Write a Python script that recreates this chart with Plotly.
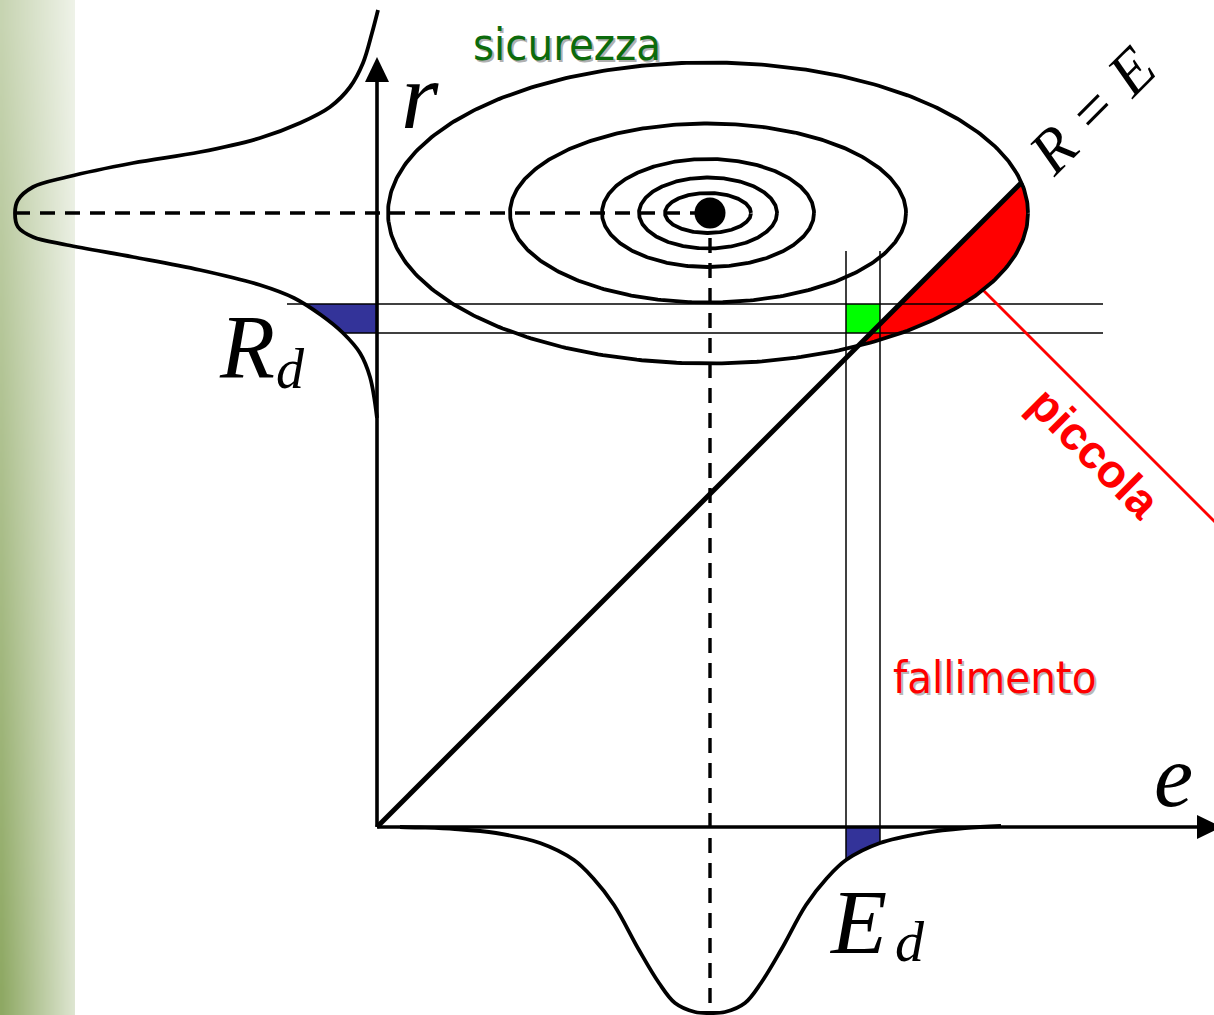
import numpy as np
import plotly.graph_objects as go

# ---------------- diagram data (slide pixel space) ----------------
origin_x, origin_y = 377, 827          # origin of the (e, r) axes
r_axis_tip = 57                        # top of r-axis arrow
e_axis_tip = 1222                      # right tip of e-axis arrow
mean_e = 710                           # mean of E (x)
mean_r = 213                           # mean of R (y)
ell_cx = 708                           # centre of the contour ellipses
ell_a = [320, 198, 106, 69, 43]        # horizontal semi-axes of the contours
ell_b = [150.5, 89.5, 54, 35.5, 20]    # vertical semi-axes of the contours
rd_band = [304, 333]                   # R_d band (y)
ed_band = [846, 880]                   # E_d band (x)
diag_end_x = 1022                      # end of the R = E line
band_line_end = 1103
band_line_top = 251
band_upper_start = 287

# density of R (drawn sideways, left of the r axis)
pdf_r_y = [10, 33, 63, 87, 107, 123, 138, 152, 163, 177, 187, 200, 213,
           227, 237, 245, 257, 270, 285, 298, 315, 333, 353, 377, 418]
pdf_r_x = [378, 372, 363, 350, 330, 300, 260, 200, 133, 67, 33, 18, 15,
           18, 33, 67, 133, 200, 260, 294, 321, 343, 360, 370, 377]

# density of E (drawn below the e axis)
pdf_e_x = [400, 419, 455, 496, 540, 574, 593, 614, 639, 659, 675, 695, 710,
           725, 745, 761, 781, 806, 827, 846, 880, 924, 965, 1001]
pdf_e_y = [827, 827.5, 829, 833, 843, 860, 878, 905, 950, 983, 1003, 1012, 1013,
           1012, 1003, 983, 950, 905, 878, 860, 843, 833, 828, 826]

pointer_x = [982, 1240]
pointer_y = [289, 547]

W, H = 1214, 1015
fig = go.Figure()

# ---- left decorative gradient strip ----
gx = np.linspace(0, 75, 31)
gy = np.linspace(0, H, 21)
gxc = (gx[:-1] + gx[1:]) / 2
gyc = (gy[:-1] + gy[1:]) / 2
Z = np.outer(0.48 + 0.52 * gyc / H, 1 - 0.72 * gxc / 75)
fig.add_trace(go.Heatmap(x=gx, y=gy, z=Z, zmin=0, zmax=1, zsmooth="best",
                         colorscale=[[0, "#ffffff"], [1, "#8ba65f"]],
                         showscale=False, hoverinfo="skip"))


def line(xs, ys, width=3, color="black", dash=None, shape="linear"):
    fig.add_trace(go.Scatter(x=list(xs), y=list(ys), mode="lines",
                             line=dict(color=color, width=width, dash=dash, shape=shape),
                             hoverinfo="skip", showlegend=False))


def poly(xs, ys, color):
    fig.add_trace(go.Scatter(x=list(xs), y=list(ys), mode="lines", fill="toself",
                             fillcolor=color, line=dict(width=0, color=color),
                             hoverinfo="skip", showlegend=False))


# ---- blue band on the R density ----
yy = np.linspace(rd_band[0], rd_band[1], 20)
xx = np.interp(yy, pdf_r_y, pdf_r_x)
poly(list(xx) + [origin_x, origin_x], list(yy) + [rd_band[1], rd_band[0]], "#333399")

# ---- blue band on the E density ----
xb = np.linspace(ed_band[0], ed_band[1], 20)
yb = np.interp(xb, pdf_e_x, pdf_e_y)
poly([ed_band[0]] + list(xb) + [ed_band[1]], [origin_y] + list(yb) + [origin_y], "#333399")

# ---- red failure region (outer contour beyond R = E) ----
t = np.linspace(-np.pi, np.pi, 4000)
ex = ell_cx + ell_a[0] * np.cos(t)
ey = mean_r + ell_b[0] * np.sin(t)
mask = (ex + ey) >= (origin_x + origin_y)
poly(ex[mask], ey[mask], "#ff0000")

# ---- green design point square ----
poly([ed_band[0], ed_band[1], ed_band[1], ed_band[0]],
     [rd_band[0], rd_band[0], rd_band[1], rd_band[1]], "#00ff00")

# ---- thin band lines ----
line([band_upper_start, band_line_end], [rd_band[0]] * 2, width=1.5)
line([np.interp(rd_band[1], pdf_r_y, pdf_r_x), band_line_end], [rd_band[1]] * 2, width=1.5)
for xv in ed_band:
    line([xv, xv], [band_line_top, np.interp(xv, pdf_e_x, pdf_e_y)], width=1.5)

# ---- red pointer line ----
line(pointer_x, pointer_y, width=2.8, color="#ff0000")

# ---- contour ellipses ----
tt = np.linspace(0, 2 * np.pi, 400)
for a, b in zip(ell_a, ell_b):
    line(ell_cx + a * np.cos(tt), mean_r + b * np.sin(tt), width=3.8)

# ---- R = E line ----
line([origin_x, diag_end_x], [origin_y, origin_y - (diag_end_x - origin_x)], width=5)

# ---- dashed mean lines ----
line([min(pdf_r_x), mean_e], [mean_r, mean_r], width=3.4, dash="15px,10px")
line([mean_e, mean_e], [mean_r, max(pdf_e_y)], width=3.4, dash="15px,10px")

# ---- densities ----
line(pdf_r_x, pdf_r_y, width=3.8, shape="spline")
line(pdf_e_x, pdf_e_y, width=3.8, shape="spline")

# ---- axes ----
line([origin_x, origin_x], [origin_y, r_axis_tip + 24], width=3.6)
line([origin_x, e_axis_tip - 24], [origin_y, origin_y], width=3.6)
poly([origin_x - 12, origin_x, origin_x + 12], [r_axis_tip + 25, r_axis_tip, r_axis_tip + 25], "black")
poly([e_axis_tip - 25, e_axis_tip, e_axis_tip - 25], [origin_y - 12, origin_y, origin_y + 12], "black")

# ---- mean point ----
fig.add_trace(go.Scatter(x=[mean_e], y=[mean_r], mode="markers",
                         marker=dict(size=31, color="black"), hoverinfo="skip", showlegend=False))

# ---- text ----
serif = "Liberation Serif, Times New Roman, serif"
sans = "DejaVu Sans Condensed, DejaVu Sans, Verdana, sans-serif"
ann = []


def text(s, x, y, size, color="black", family=serif, style="normal", weight="normal", angle=0):
    ann.append(dict(text=s, x=x, y=y, xref="x", yref="y", showarrow=False,
                    xanchor="center", yanchor="middle", textangle=angle,
                    font=dict(family=family, size=size, color=color, style=style, weight=weight)))


text("sicurezza", 569, 46, 45, color="#b0b0b0", family=sans)
text("sicurezza", 567, 44, 45, color="#0c6b0c", family=sans)
text("fallimento", 996, 679, 45, color="#b8b8b8", family=sans)
text("fallimento", 994, 677, 45, color="#ff0000", family=sans)
text("piccola", 1095, 452, 47, color="#ff0000", family="Liberation Sans, Arial, sans-serif",
     weight="bold", angle=45)
text("R = E", 1092, 110, 62, style="italic", angle=-45)
text("r", 420, 95, 96, style="italic")
text("e", 1173, 776, 88, style="italic")
text("R", 247, 347, 90, style="italic")
text("d", 290, 369, 56, style="italic")
text("E", 858, 922, 92, style="italic")
text("d", 910, 941, 58, style="italic")

fig.update_layout(
    width=W, height=H, margin=dict(l=0, r=0, t=0, b=0),
    paper_bgcolor="white", plot_bgcolor="white", showlegend=False,
    xaxis=dict(range=[0, W], visible=False, fixedrange=True),
    yaxis=dict(range=[H, 0], visible=False, fixedrange=True),
    annotations=ann,
)
fig.write_html("out.html", config={"displayModeBar": False},
               post_script="document.body.style.margin='0';document.body.style.padding='0';"
                           "document.body.style.overflow='hidden';")
